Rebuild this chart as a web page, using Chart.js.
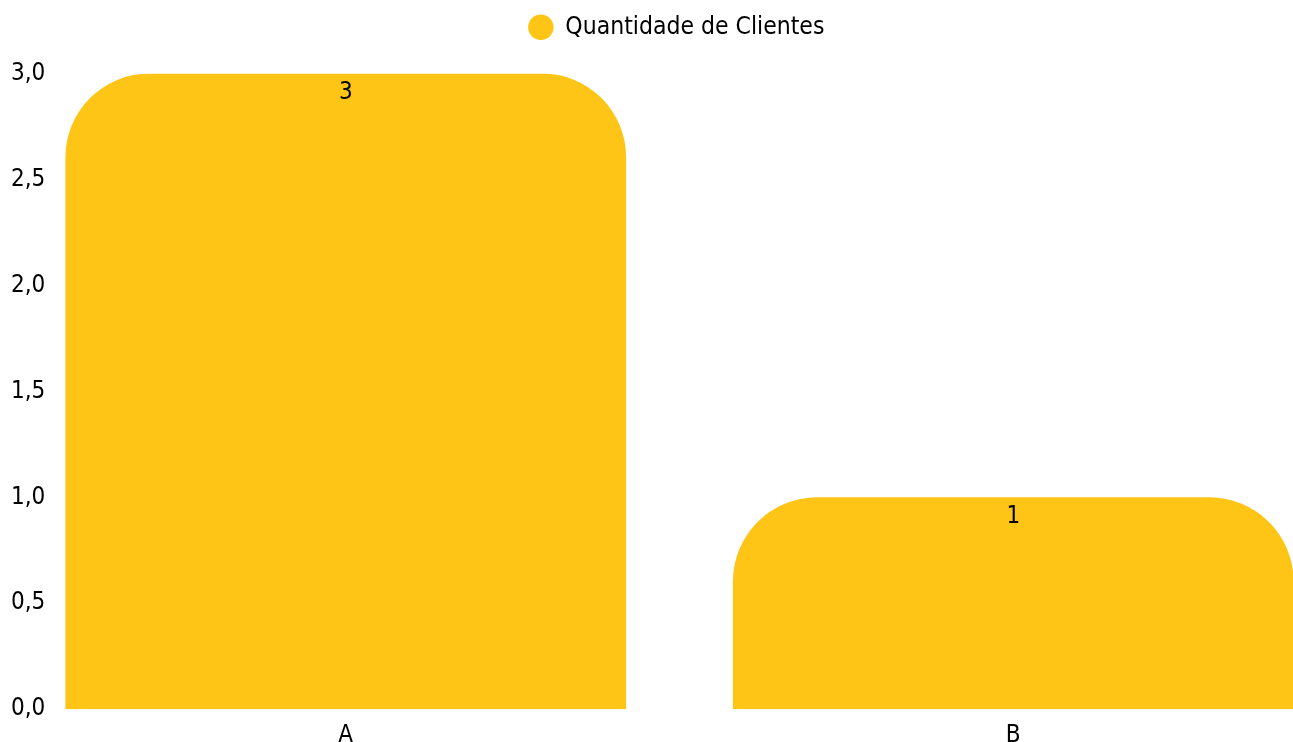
<!DOCTYPE html>
<html>
<head>
<meta charset="utf-8">
<script src="https://cdn.jsdelivr.net/npm/chart.js@4"></script>
<style>
  html, body { margin: 0; padding: 0; background: #fff; overflow: hidden; }
  #wrap { position: relative; width: 1347px; height: 754px; }
</style>
</head>
<body>
<div id="wrap"><canvas id="clientesChart"></canvas></div>
<script>
const categorias = ["A", "B"];
const quantidadeClientes = [3, 1];
const serieNome = "Quantidade de Clientes";
const yTicksMax = 3;
const yTicksStep = 0.5;

const fonte = 'Tahoma, "DejaVu Sans Condensed", "DejaVu Sans", sans-serif';
Chart.defaults.font.family = fonte;
Chart.defaults.font.size = 24;
Chart.defaults.color = "#000";

// rótulo com o valor dentro do topo da barra
const valorNoTopo = {
  id: "valorNoTopo",
  afterDatasetsDraw(chart) {
    const ctx = chart.ctx;
    const meta = chart.getDatasetMeta(0);
    ctx.save();
    ctx.font = "24px " + fonte;
    ctx.fillStyle = "#000";
    ctx.textAlign = "center";
    ctx.textBaseline = "middle";
    meta.data.forEach((bar, i) => {
      ctx.fillText(String(chart.data.datasets[0].data[i]), bar.x, bar.y + 19);
    });
    ctx.restore();
  },
};

// espaço extra entre a legenda e o gráfico
const espacoLegenda = {
  id: "espacoLegenda",
  beforeInit(chart) {
    const fitOriginal = chart.legend.fit;
    chart.legend.fit = function fit() {
      fitOriginal.bind(chart.legend)();
      this.height += 24;
    };
  },
};

const ctx = document.getElementById("clientesChart").getContext("2d");
new Chart(ctx, {
  type: "bar",
  data: {
    labels: categorias,
    datasets: [
      {
        label: serieNome,
        data: quantidadeClientes,
        backgroundColor: "#FFC516",
        borderWidth: 0,
        borderRadius: 84,
        borderSkipped: "start",
        categoryPercentage: 1,
        barPercentage: 0.84,
      },
    ],
  },
  options: {
    responsive: true,
    maintainAspectRatio: false,
    animation: false,
    layout: { padding: { left: 6, right: 0, top: 5, bottom: 0 } },
    plugins: {
      legend: {
        display: true,
        labels: {
          usePointStyle: true,
          pointStyle: "circle",
          boxHeight: 18,
          color: "#000",
          font: { size: 24.5 },
        },
      },
      tooltip: { enabled: false },
    },
    scales: {
      x: {
        grid: { display: false },
        border: { display: false },
        ticks: { padding: 4 },
      },
      y: {
        min: 0,
        max: yTicksMax,
        grid: { display: false },
        border: { display: false },
        ticks: {
          mirror: true,
          padding: -1,
          stepSize: yTicksStep,
          callback: (v) =>
            Number(v).toLocaleString("pt-BR", {
              minimumFractionDigits: 1,
              maximumFractionDigits: 1,
            }),
        },
      },
    },
  },
  plugins: [valorNoTopo, espacoLegenda],
});
</script>
</body>
</html>
